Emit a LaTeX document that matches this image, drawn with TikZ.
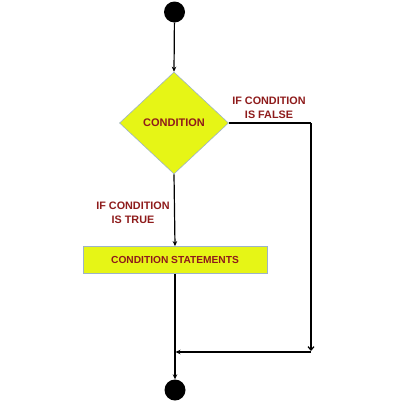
\documentclass[tikz,border=0pt]{standalone}
\usepackage{fontspec}
\setmainfont{Liberation Sans}
\usetikzlibrary{shapes.geometric,arrows.meta}
\definecolor{fillyel}{HTML}{E6F516}
\definecolor{txtred}{HTML}{8E1B1B}
\definecolor{edgeblue}{HTML}{9DB3C8}
\tikzset{
  term/.style={circle,fill=black,minimum size=21pt,inner sep=0pt},
  decision/.style={diamond,fill=fillyel,draw=edgeblue,line width=0.6pt,minimum width=109pt,minimum height=102pt,inner sep=0pt,text=txtred,font=\bfseries\fontsize{11}{13}\selectfont},
  process/.style={rectangle,fill=fillyel,draw=edgeblue,line width=0.8pt,minimum width=184pt,minimum height=27pt,inner sep=0pt,text=txtred,font=\bfseries\fontsize{10.2}{12}\selectfont},
  lbl/.style={text=txtred,font=\bfseries\fontsize{10.8}{14}\selectfont,align=center,inner sep=0pt},
  flow/.style={line width=1.2pt,-{Stealth[length=5pt,width=4.5pt]}},
  flowv/.style={line width=1.2pt,-{Straight Barb[length=3.5pt,width=6pt]}},
  plain/.style={line width=1.2pt}
}
\begin{document}
\begin{tikzpicture}[x=1pt,y=-1pt]
\useasboundingbox (0,0) rectangle (409,400);
\node[term] (start) at (174.5,12) {};
\node[decision] (cond) at (174,123) {CONDITION};
\node[process] (stmt) at (175,260) {CONDITION STATEMENTS};
\node[term] (stop) at (175,390) {};
\coordinate (fc) at (311,123);
\coordinate (fe) at (311,351);
\coordinate (fs) at (311,352);
\coordinate (mg) at (175.5,352);
\node[lbl] (lf) at (269,108) {IF CONDITION\\IS FALSE};
\node[lbl] (lt) at (133,213) {IF CONDITION\\IS TRUE};
\draw[flow] (start) -- (cond.north);
\draw[flow] (cond.south) -- (stmt.north);
\draw[plain] (cond.east) -- (fc);
\draw[flowv] (fc) -- (fe);
\draw[flow] (fs) -- (mg);
\draw[flow] (stmt.south) -- (stop.north);
\end{tikzpicture}
\end{document}
